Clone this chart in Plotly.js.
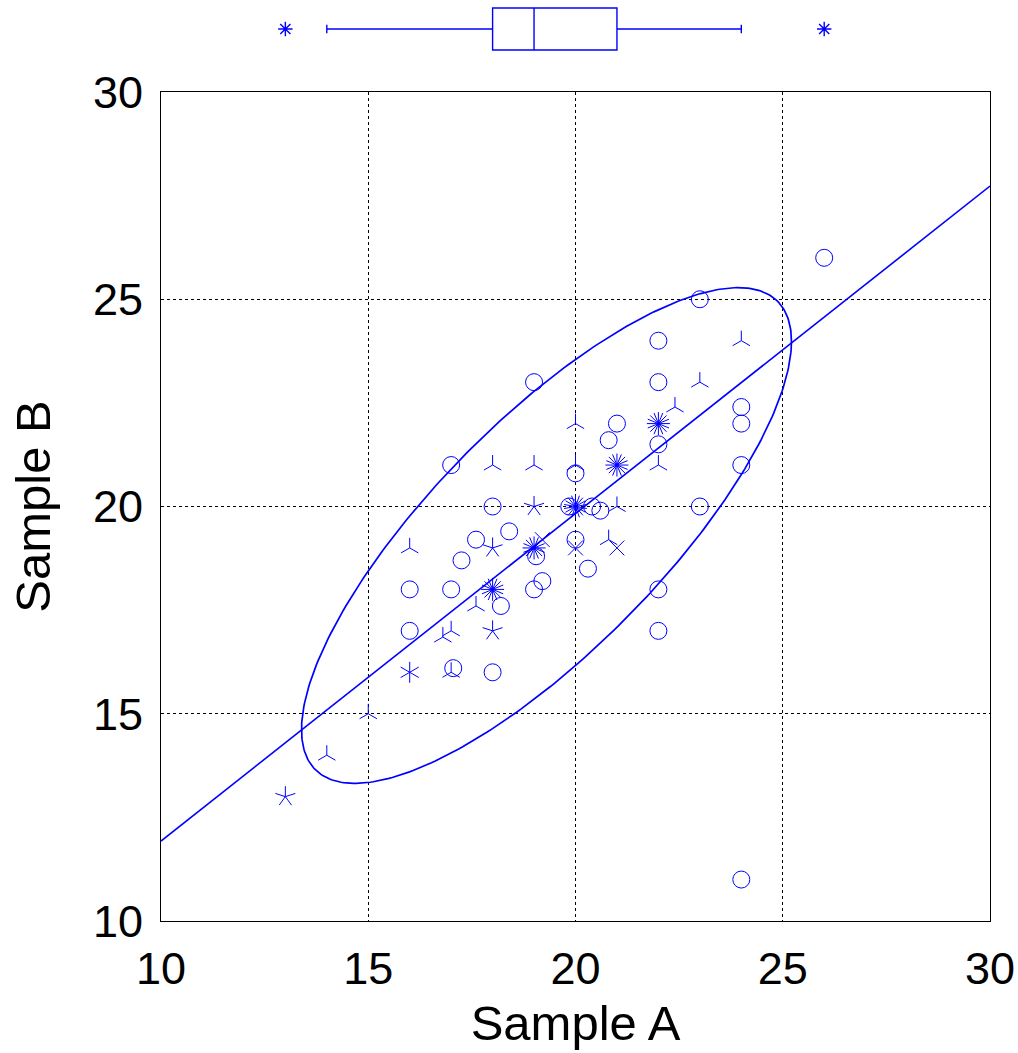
<!DOCTYPE html>
<html><head><meta charset="utf-8">
<script src="https://cdn.plot.ly/plotly-3.0.1.min.js"></script>
<style>html,body{margin:0;padding:0;background:#fff}</style>
</head><body><div id="chart" style="width:1018px;height:1053px"></div>
<script>
// single observations (open circles)
const circleA = [26, 23, 22, 19, 22, 21, 20.8, 22, 17, 20, 24, 24, 24, 23, 18, 19.85, 20.4, 20.6, 18.4, 17.6, 19.05, 20, 17.25, 20.3, 19.2, 19, 16, 17, 22, 18.2, 16, 22, 17.05, 18, 24];
const circleB = [26, 25, 24, 23, 23, 22, 21.6, 21.5, 21, 20.8, 21, 22.4, 22, 20, 20, 20, 20, 19.9, 19.4, 19.2, 18.8, 19.2, 18.7, 18.5, 18.2, 18, 18, 18, 18, 17.6, 17, 17, 16.1, 16, 11];
// repeated observations (sunflower glyphs), petals = rays
const triA = [24, 23, 22.4, 20, 18, 19, 20, 22, 21, 16, 20.8, 17.6, 17, 16.8, 17, 15, 14];
const triB = [24, 23, 22.4, 22, 21, 21, 21, 21, 20, 19, 19.2, 17.6, 17, 16.85, 16, 15, 14];
const crossA = [20, 21, 19.2];
const crossB = [19, 19, 19.2];
const star5A = [19, 18, 18, 13];
const star5B = [20, 19, 17, 13];
const star6A = [16];
const star6B = [16];
const sunA = [18, 19, 20, 21, 22];
const sunB = [18, 19, 20, 21, 22];
const sunPetals = [16, 16, 18, 16, 16];
// regression line and concentration ellipse
const fitIntercept = 4.03, fitSlope = 0.79;
const ellCenter = [19.3, 19.3];
const ellRx = 5.91, ellRy = 5.98, ellRho = 0.783;
// boxplot of Sample A
const boxQ1 = 18, boxMedian = 19, boxQ3 = 21, boxLow = 14, boxHigh = 24;
const outlierA = [13, 26];

const BLUE = '#0000ff';
const unitPerPx = 20 / 829;

function rays(xs, ys, petals, lenPx, startDeg) {
  const X = [], Y = [];
  const L = lenPx * unitPerPx;
  xs.forEach((x0, i) => {
    const n = Array.isArray(petals) ? petals[i] : petals;
    for (let k = 0; k < n; k++) {
      const a = (startDeg + k * 360 / n) * Math.PI / 180;
      X.push(x0, x0 + L * Math.cos(a), null);
      Y.push(ys[i], ys[i] + L * Math.sin(a), null);
    }
  });
  return {X, Y};
}
const r3 = rays(triA, triB, 3, 10, 90);
const r4 = rays(crossA, crossB, 4, 10.5, 45);
const r5 = rays(star5A, star5B, 5, 10.5, 90);
const r6 = rays(star6A, star6B, 6, 10.5, 90);
const rs = rays(sunA, sunB, sunPetals, 11.5, 90);
const petalX = [].concat(r3.X, r4.X, r5.X, r6.X, rs.X);
const petalY = [].concat(r3.Y, r4.Y, r5.Y, r6.Y, rs.Y);

const fitX = [10, 30];
const fitY = fitX.map(x => fitIntercept + fitSlope * x);

const ellX = [], ellY = [];
const phi = Math.acos(ellRho);
for (let i = 0; i <= 360; i++) {
  const t = i * Math.PI / 180;
  ellX.push(ellCenter[0] + ellRx * Math.cos(t));
  ellY.push(ellCenter[1] + ellRy * Math.cos(t - phi));
}

const traces = [
  {type:'scatter', mode:'lines', x: fitX, y: fitY, line:{color:BLUE, width:1.6}, hoverinfo:'skip'},
  {type:'scatter', mode:'lines', x: ellX, y: ellY, line:{color:BLUE, width:1.7}, hoverinfo:'skip'},
  {type:'scatter', mode:'markers', x: circleA, y: circleB,
   marker:{symbol:'circle-open', size:17, color:BLUE, line:{width:1, color:BLUE}}},
  {type:'scatter', mode:'lines', x: petalX, y: petalY, line:{color:BLUE, width:1}, hoverinfo:'skip'},
  {type:'box', orientation:'h', xaxis:'x2', yaxis:'y2', y:[0],
   q1:[boxQ1], median:[boxMedian], q3:[boxQ3], lowerfence:[boxLow], upperfence:[boxHigh],
   width:1.45, whiskerwidth:0.2, boxpoints:false,
   line:{color:BLUE, width:1.4}, fillcolor:'rgba(0,0,0,0)'},
  {type:'scatter', mode:'markers', xaxis:'x2', yaxis:'y2', x: outlierA, y: outlierA.map(() => 0),
   marker:{symbol:'asterisk-open', size:12, color:BLUE, line:{width:1.4, color:BLUE}}}
];

const fontFam = '"Liberation Sans", Arial, sans-serif';
const axisCommon = {
  range:[10,30], tickvals:[10,15,20,25,30], showgrid:true, gridcolor:'#000', griddash:'dot', gridwidth:1,
  showline:true, mirror:true, linecolor:'#000', linewidth:1, ticks:'', zeroline:false,
  tickfont:{family:fontFam, size:45, color:'#000'}
};
const layout = {
  width:1018, height:1053,
  margin:{l:161, r:28, t:0, b:132},
  paper_bgcolor:'#fff', plot_bgcolor:'#fff', showlegend:false,
  xaxis: Object.assign({}, axisCommon, {domain:[0,1], anchor:'y', ticklabelstandoff:8,
    title:{text:'Sample A', font:{family:fontFam, size:49, color:'#000'}, standoff:12}}),
  yaxis: Object.assign({}, axisCommon, {domain:[0, 829/921], anchor:'x', ticklabelstandoff:8,
    title:{text:'Sample B', font:{family:fontFam, size:49, color:'#000'}, standoff:26}}),
  xaxis2: {domain:[0,1], range:[10,30], anchor:'y2', visible:false},
  yaxis2: {domain:[(921-58)/921, 1], range:[-1,1], anchor:'x2', visible:false}
};
Plotly.newPlot('chart', traces, layout, {displayModeBar:false, staticPlot:true});
</script></body></html>
